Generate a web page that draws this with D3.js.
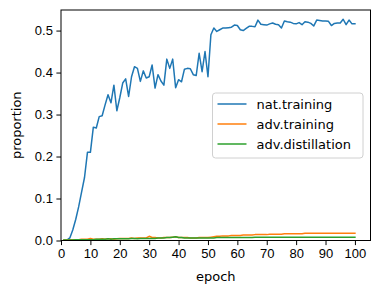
<!DOCTYPE html>
<html>
<head>
<meta charset="utf-8">
<script src="https://cdn.jsdelivr.net/npm/d3@7"></script>
<style>
  body { margin: 0; background: #fff; }
  svg { font-family: "DejaVu Sans", sans-serif; }
</style>
</head>
<body>
<svg id="chart" width="381" height="294"></svg>
<script>
// epochs 1..100
const epochs = d3.range(1, 101);

const natTraining = [
  0.000, 0.001, 0.006, 0.025, 0.050, 0.080, 0.115, 0.150, 0.210, 0.210,
  0.270, 0.268, 0.295, 0.297, 0.323, 0.347, 0.328, 0.370, 0.309, 0.340,
  0.375, 0.385, 0.343, 0.390, 0.414, 0.410, 0.379, 0.404, 0.387, 0.390,
  0.418, 0.363, 0.395, 0.380, 0.370, 0.432, 0.410, 0.432, 0.364, 0.383,
  0.378, 0.408, 0.410, 0.409, 0.395, 0.393, 0.446, 0.402, 0.450, 0.390,
  0.490, 0.506, 0.498, 0.502, 0.506, 0.506, 0.507, 0.508, 0.513, 0.512,
  0.502, 0.500, 0.505, 0.510, 0.510, 0.509, 0.525, 0.515, 0.514, 0.513,
  0.516, 0.518, 0.515, 0.514, 0.506, 0.523, 0.521, 0.520, 0.517, 0.516,
  0.519, 0.514, 0.521, 0.520, 0.517, 0.511, 0.525, 0.524, 0.523, 0.523,
  0.522, 0.512, 0.517, 0.518, 0.518, 0.527, 0.514, 0.525, 0.516, 0.516
];

const advTraining = [
  0.001, 0.001, 0.002, 0.002, 0.002, 0.002, 0.003, 0.003, 0.003, 0.005,
  0.003, 0.003, 0.003, 0.004, 0.003, 0.004, 0.004, 0.003, 0.004, 0.005,
  0.005, 0.005, 0.005, 0.006, 0.005, 0.006, 0.006, 0.006, 0.006, 0.010,
  0.007, 0.007, 0.006, 0.006, 0.007, 0.007, 0.007, 0.008, 0.009, 0.007,
  0.007, 0.007, 0.007, 0.006, 0.006, 0.006, 0.007, 0.007, 0.007, 0.007,
  0.008, 0.009, 0.010, 0.010, 0.011, 0.011, 0.011, 0.012, 0.012, 0.012,
  0.012, 0.013, 0.013, 0.013, 0.013, 0.014, 0.014, 0.014, 0.014, 0.014,
  0.015, 0.015, 0.015, 0.015, 0.015, 0.016, 0.016, 0.016, 0.016, 0.016,
  0.016, 0.016, 0.017, 0.017, 0.017, 0.017, 0.017, 0.017, 0.017, 0.017,
  0.017, 0.017, 0.017, 0.017, 0.017, 0.017, 0.017, 0.017, 0.017, 0.017
];

const advDistillation = [
  0.001, 0.001, 0.001, 0.001, 0.002, 0.002, 0.002, 0.002, 0.002, 0.002,
  0.002, 0.003, 0.003, 0.003, 0.003, 0.004, 0.003, 0.004, 0.004, 0.004,
  0.004, 0.004, 0.004, 0.005, 0.005, 0.004, 0.005, 0.005, 0.005, 0.005,
  0.005, 0.005, 0.006, 0.006, 0.006, 0.007, 0.007, 0.008, 0.009, 0.007,
  0.007, 0.006, 0.006, 0.006, 0.006, 0.006, 0.006, 0.006, 0.006, 0.006,
  0.006, 0.006, 0.007, 0.007, 0.007, 0.007, 0.007, 0.007, 0.007, 0.007,
  0.007, 0.007, 0.007, 0.007, 0.007, 0.008, 0.008, 0.008, 0.008, 0.008,
  0.008, 0.008, 0.008, 0.008, 0.008, 0.008, 0.008, 0.008, 0.008, 0.008,
  0.008, 0.008, 0.008, 0.008, 0.008, 0.008, 0.008, 0.008, 0.008, 0.008,
  0.008, 0.008, 0.008, 0.008, 0.008, 0.008, 0.008, 0.008, 0.008, 0.008
];

const seriesNames = ["nat.training", "adv.training", "adv.distillation"];
const seriesColors = ["#1f77b4", "#ff7f0e", "#2ca02c"];
const xTicks = [0, 10, 20, 30, 40, 50, 60, 70, 80, 90, 100];
const yTicks = [0.0, 0.1, 0.2, 0.3, 0.4, 0.5];

const series = [natTraining, advTraining, advDistillation].map((vals, i) => ({
  name: seriesNames[i],
  color: seriesColors[i],
  points: epochs.map((e, j) => [e, vals[j]])
}));

const svg = d3.select("#chart");
const margin = { left: 61, top: 10, right: 10.5, bottom: 53.5 };
const W = 381, H = 294;

const x = d3.scaleLinear().domain([0, 105.3]).range([margin.left, W - margin.right]);
const y = d3.scaleLinear().domain([0, 0.549]).range([H - margin.bottom, margin.top]);

// lines
const line = d3.line().x(d => x(d[0])).y(d => y(d[1]));
const clip = svg.append("defs").append("clipPath").attr("id", "plot-clip")
  .append("rect")
  .attr("x", margin.left).attr("y", margin.top)
  .attr("width", W - margin.right - margin.left)
  .attr("height", H - margin.bottom - margin.top);

const gLines = svg.append("g").attr("clip-path", "url(#plot-clip)");
// draw in reverse so blue is on top, as in matplotlib order it's first... keep plot order
series.forEach(s => {
  gLines.append("path")
    .datum(s.points)
    .attr("fill", "none")
    .attr("stroke", s.color)
    .attr("stroke-width", 1.5)
    .attr("stroke-linejoin", "round")
    .attr("stroke-linecap", "square")
    .attr("d", line);
});

// axes
const xAxis = d3.axisBottom(x).tickValues(xTicks).tickFormat(d3.format("d")).tickSize(4.6).tickPadding(3.5);
const yAxis = d3.axisLeft(y).tickValues(yTicks).tickFormat(d3.format(".1f")).tickSize(4.6).tickPadding(3.5);

const gx = svg.append("g").attr("transform", `translate(0,${H - margin.bottom})`).call(xAxis);
const gy = svg.append("g").attr("transform", `translate(${margin.left},0)`).call(yAxis);

[gx, gy].forEach(g => {
  g.select(".domain").remove();
  g.selectAll(".tick line").attr("stroke", "#000").attr("stroke-width", 1);
  g.selectAll(".tick text").attr("fill", "#000").style("font-size", "13px");
});

// spines
svg.append("rect")
  .attr("x", margin.left).attr("y", margin.top)
  .attr("width", W - margin.right - margin.left)
  .attr("height", H - margin.bottom - margin.top)
  .attr("fill", "none")
  .attr("stroke", "#000")
  .attr("stroke-width", 1);

// axis labels
svg.append("text")
  .attr("x", (margin.left + W - margin.right) / 2)
  .attr("y", 281)
  .attr("text-anchor", "middle")
  .style("font-size", "13px")
  .text("epoch");

svg.append("text")
  .attr("transform", `translate(21,${(margin.top + H - margin.bottom) / 2}) rotate(-90)`)
  .attr("text-anchor", "middle")
  .style("font-size", "13px")
  .text("proportion");

// legend
const legend = svg.append("g").attr("transform", "translate(212.5,93)");
legend.append("rect")
  .attr("width", 150.5).attr("height", 65)
  .attr("rx", 3)
  .attr("fill", "#fff").attr("fill-opacity", 0.8)
  .attr("stroke", "#d0d0d0").attr("stroke-width", 1);

series.forEach((s, i) => {
  const ly = 11 + i * 20;
  legend.append("line")
    .attr("x1", 5).attr("x2", 34)
    .attr("y1", ly).attr("y2", ly)
    .attr("stroke", s.color).attr("stroke-width", 1.5);
  legend.append("text")
    .attr("x", 44).attr("y", ly)
    .attr("dy", "0.35em")
    .style("font-size", "13px")
    .text(s.name);
});
</script>
</body>
</html>
